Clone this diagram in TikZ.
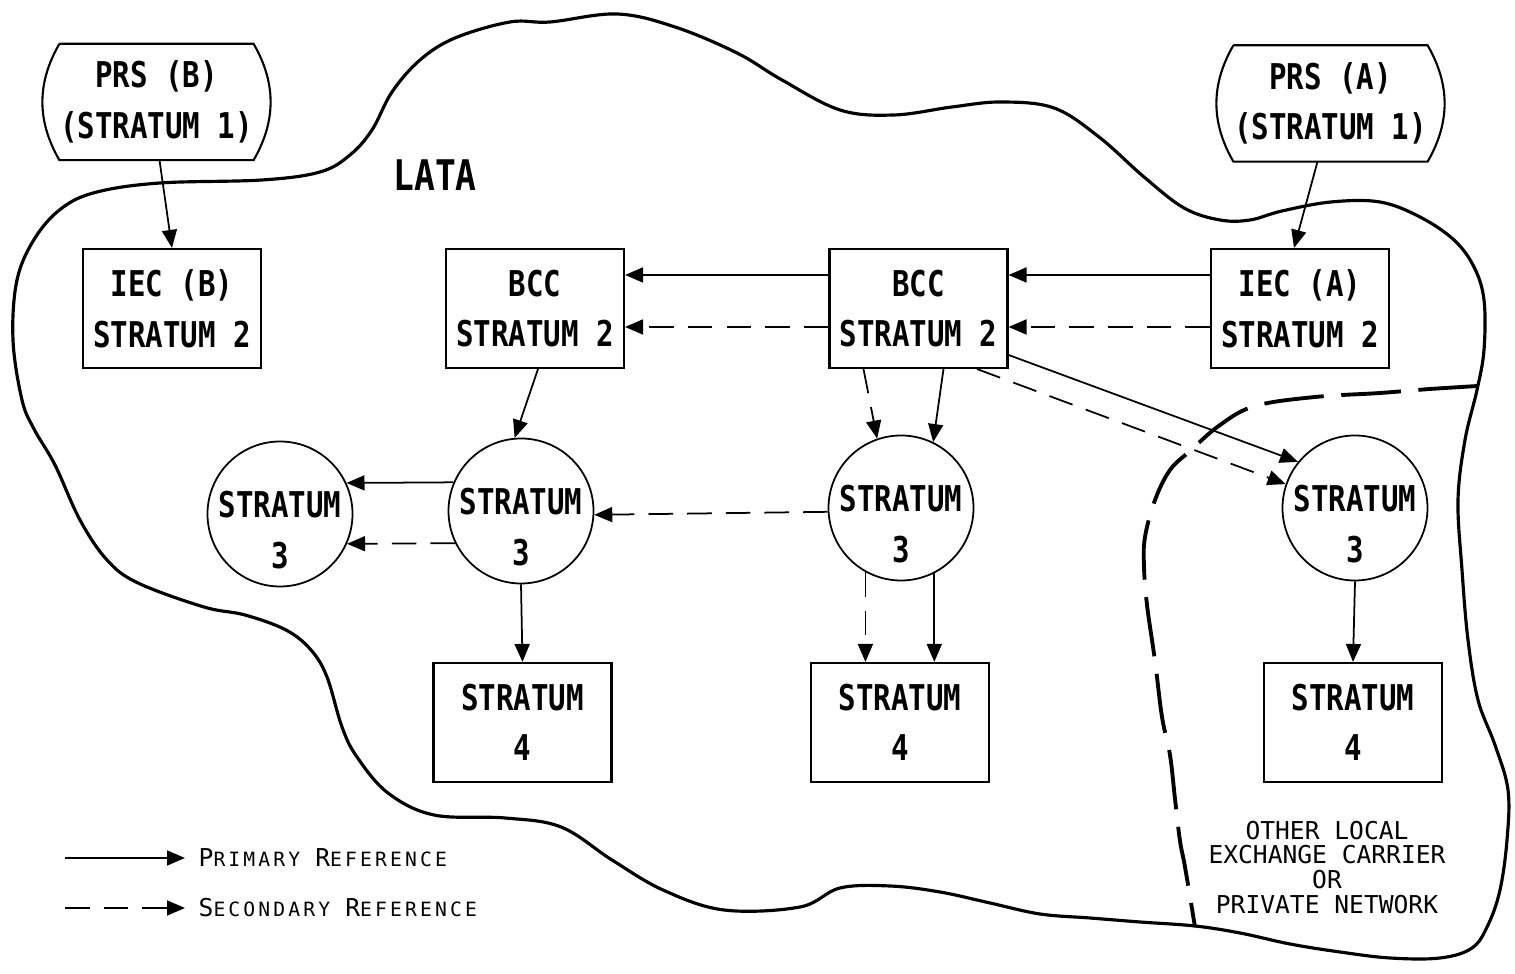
\documentclass[tikz,border=0pt]{standalone}
\usepackage{fontspec}
\setmainfont[FakeStretch=0.82]{DejaVu Sans Mono}
\newfontfamily\legendfont[LetterSpace=16]{DejaVu Sans Mono}
\newfontfamily\notefont{DejaVu Sans Mono}
\usetikzlibrary{arrows.meta}
\newcommand{\boxfont}{\fontsize{10.1}{14.4}\selectfont\bfseries}
\newcommand{\legendcap}[1]{{\fontsize{7}{7}\selectfont #1}}
\tikzset{
    > = {Triangle[length=1.8mm, width=1.5mm]},
    box/.style = {draw, line width=0.6pt, minimum width=1.78cm, minimum height=1.19cm,
        align=center, inner sep=0pt, font=\boxfont},
    prs/.style = {minimum width=1.9cm, minimum height=1.15cm, align=center,
        inner sep=0pt, font=\boxfont},
    clock/.style = {draw, circle, line width=0.5pt, minimum size=1.45cm,
        label={[font=\boxfont, align=center, yshift=-1.6mm]center:#1}},
    primary/.style = {->, line width=0.5pt},
    secondary/.style = {->, line width=0.5pt, dash pattern=on 7pt off 4pt},
    lata/.style = {line width=0.9pt},
    carrier/.style = {line width=1.1pt, dash pattern=on 17pt off 5pt},
    legend/.style = {anchor=west, inner sep=1.3mm, font=\legendfont\fontsize{5.6}{6}\selectfont}
}

\begin{document}
\begin{tikzpicture}
    \useasboundingbox (0,0) rectangle (15.15,-9.74);

    \draw[lata] plot[smooth cycle, tension=0.6] coordinates {
        (0.22,-4.00) (0.13,-3.40) (0.17,-2.80) (0.35,-2.38) (0.62,-2.08) (0.97,-1.92)
        (1.60,-1.83) (2.62,-1.80) (3.20,-1.72) (3.50,-1.55) (3.72,-1.30) (3.92,-0.92)
        (4.20,-0.60) (4.55,-0.38) (5.10,-0.22) (5.50,-0.22) (6.17,-0.14) (6.75,-0.27)
        (7.37,-0.53) (7.82,-0.80) (8.40,-1.10) (8.94,-1.15) (9.52,-1.07) (10.01,-1.02)
        (10.54,-1.08) (10.99,-1.37) (11.44,-1.77) (11.84,-2.08) (12.20,-2.20) (12.50,-2.20)
        (12.82,-2.11) (13.31,-2.02) (13.80,-2.02) (14.20,-2.17) (14.54,-2.40) (14.74,-2.67)
        (14.84,-3.00) (14.84,-3.50) (14.77,-3.90) (14.65,-4.40) (14.58,-5.00) (14.62,-5.70)
        (14.68,-6.40) (14.78,-7.00) (14.95,-7.45) (15.08,-7.90) (15.07,-8.40) (15.00,-8.90)
        (14.88,-9.25) (14.72,-9.48) (14.40,-9.58) (13.90,-9.58) (13.40,-9.52) (12.90,-9.44)
        (12.40,-9.33) (11.95,-9.26) (11.40,-9.22) (10.90,-9.18) (10.40,-9.14) (9.90,-9.03)
        (9.40,-8.92) (8.90,-8.86) (8.40,-8.88) (8.00,-9.07) (7.24,-9.10) (6.63,-8.90)
        (6.12,-8.60) (5.61,-8.27) (5.05,-8.18) (4.34,-8.15) (3.88,-7.93) (3.57,-7.57)
        (3.42,-7.27) (3.27,-6.77) (3.11,-6.50) (2.86,-6.30) (2.45,-6.15) (2.04,-6.07)
        (1.38,-5.83) (1.07,-5.60) (0.80,-5.20) (0.55,-4.65) (0.34,-4.29)};
    \draw[carrier] plot[smooth, tension=0.6] coordinates {
        (14.78,-3.86) (14.30,-3.89) (13.80,-3.93) (13.15,-3.97) (12.55,-4.06) (12.20,-4.25)
        (11.90,-4.51) (11.70,-4.70) (11.55,-5.00) (11.45,-5.37) (11.44,-5.67) (11.47,-6.05)
        (11.55,-6.61) (11.62,-7.17) (11.70,-7.55) (11.75,-7.99) (11.80,-8.41) (11.85,-8.67)
        (11.95,-9.27)};

    \node[font=\fontsize{12}{12}\selectfont\bfseries] (lata) at (4.35,-1.75) {LATA};

    \node[prs] (prsb) at (1.565,-1.02) {PRS (B)\\(STRATUM 1)};
    \node[prs] (prsa) at (13.305,-1.035) {PRS (A)\\(STRATUM 1)};
    \draw[line width=0.6pt] (prsb.north west) -- (prsb.north east) to[bend left=30] (prsb.south east)
        -- (prsb.south west) to[bend left=30] (prsb.north west);
    \draw[line width=0.6pt] (prsa.north west) -- (prsa.north east) to[bend left=30] (prsa.south east)
        -- (prsa.south west) to[bend left=30] (prsa.north west);

    \node[box] (iecb) at (1.72,-3.085) {IEC (B)\\STRATUM 2};
    \node[box] (bccl) at (5.35,-3.085) {BCC\\STRATUM 2};
    \node[box] (bccm) at (9.185,-3.085) {BCC\\STRATUM 2};
    \node[box] (ieca) at (13.0,-3.085) {IEC (A)\\STRATUM 2};

    \node[clock={STRATUM\\3}] (c1) at (2.80,-5.14) {};
    \node[clock={STRATUM\\3}] (c2) at (5.21,-5.11) {};
    \node[clock={STRATUM\\3}] (c3) at (9.01,-5.08) {};
    \node[clock={STRATUM\\3}] (c4) at (13.55,-5.08) {};

    \node[box] (s4a) at (5.225,-7.225) {STRATUM\\4};
    \node[box] (s4b) at (9.00,-7.225) {STRATUM\\4};
    \node[box] (s4c) at (13.53,-7.225) {STRATUM\\4};

    \draw ([xshift=0.3mm]prsb.south) edge[primary] (iecb.north);
    \draw ([xshift=-1.3mm]prsa.south) edge[primary] ([xshift=-0.6mm]ieca.north);

    \draw ([yshift=3.35mm]ieca.west) edge[primary] ([yshift=3.35mm]bccm.east);
    \draw ([yshift=-1.85mm]ieca.west) edge[secondary] ([yshift=-1.85mm]bccm.east);
    \draw ([yshift=3.35mm]bccm.west) edge[primary] ([yshift=3.35mm]bccl.east);
    \draw ([yshift=-1.85mm]bccm.west) edge[secondary] ([yshift=-1.85mm]bccl.east);

    \draw ([xshift=0.3mm]bccl.south) edge[primary] (c2.95);
    \draw ([xshift=-5.5mm]bccm.south) edge[secondary] (c3.109);
    \draw ([xshift=2.5mm]bccm.south) edge[primary] (c3.64);
    \draw ([yshift=-4.65mm]bccm.east) edge[primary] (c4.141);
    \draw ([xshift=5.85mm]bccm.south) edge[secondary] (c4.161);

    \draw (c2.157) edge[primary] (c1.25);
    \draw (c2.206) edge[secondary] (c1.336);
    \draw (c3.183) edge[secondary] (c2.357);

    \draw (c2.south) edge[primary] (s4a.north);
    \draw (c3.241) edge[secondary] (c3.241 |- s4b.north);
    \draw (c3.297) edge[primary] (c3.297 |- s4b.north);
    \draw (c4.south) edge[primary] (s4c.north);

    \node[font=\notefont\fontsize{7}{7.1}\selectfont, align=center] (other) at (13.27,-8.675)
        {OTHER LOCAL\\EXCHANGE CARRIER\\OR\\PRIVATE NETWORK};

    \coordinate (pstart) at (0.65,-8.58);
    \coordinate (sstart) at (0.65,-9.08);
    \node[legend] (ptext) at (1.85,-8.58) {\legendcap{P}RIMARY \legendcap{R}EFERENCE};
    \node[legend] (stext) at (1.85,-9.08) {\legendcap{S}ECONDARY \legendcap{R}EFERENCE};
    \draw (pstart) edge[primary] (ptext.west);
    \draw (sstart) edge[secondary] (stext.west);
\end{tikzpicture}
\end{document}
